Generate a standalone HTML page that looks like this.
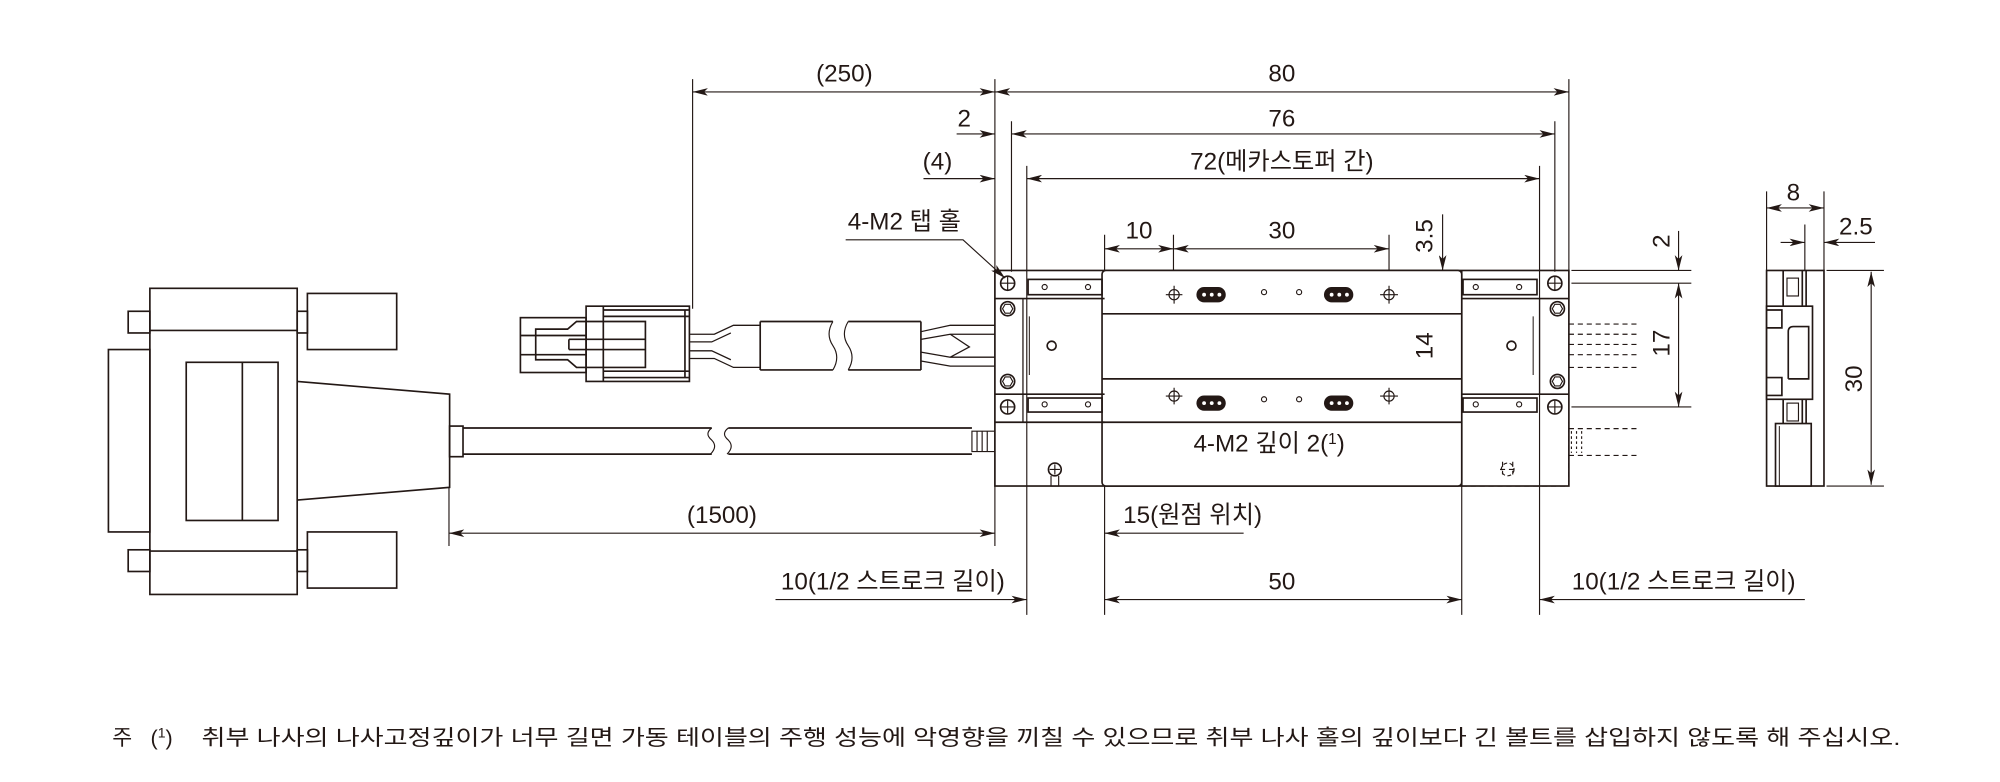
<!DOCTYPE html>
<html><head><meta charset="utf-8">
<style>
html,body{margin:0;padding:0;background:#fff;}
svg{display:block;}
text{font-family:"Liberation Sans","Noto Sans CJK KR",sans-serif;fill:#231815;}
</style></head>
<body>
<svg width="2000" height="782" viewBox="0 0 1568 613" xmlns="http://www.w3.org/2000/svg">
<defs>
<marker id="a" viewBox="0 0 12 6" refX="12" refY="3" markerWidth="12" markerHeight="6" markerUnits="userSpaceOnUse" orient="auto-start-reverse">
<path d="M0,0 L12,3 L0,6 L3,3 Z" fill="#231815"/>
</marker>
</defs>
<g stroke="#231815" fill="none" stroke-width="0.9">
<!-- extension lines -->
<path d="M543,62V242 M780,62V428 M793,95V213 M805,130V482 M1219,95V213 M1230,62V213 M1207,130V482 M866,381V482 M1146,381V482 M352,382V428 M866,184V212 M920,184V240 M1089,184V240"/>
<!-- dimension lines -->
<path d="M543,72H780" marker-start="url(#a)" marker-end="url(#a)"/>
<path d="M780,72H1230" marker-start="url(#a)" marker-end="url(#a)"/>
<path d="M750,105H780" marker-end="url(#a)"/>
<path d="M793,105H1219" marker-start="url(#a)" marker-end="url(#a)"/>
<path d="M724,140H780" marker-end="url(#a)"/>
<path d="M805,140H1207" marker-start="url(#a)" marker-end="url(#a)"/>
<path d="M866,195H920" marker-start="url(#a)" marker-end="url(#a)"/>
<path d="M920,195H1089" marker-start="url(#a)" marker-end="url(#a)"/>
<path d="M1131,168V212" marker-end="url(#a)"/>
<path d="M1131,230V310" marker-start="url(#a)" marker-end="url(#a)"/>
<path d="M1089,230H1145 M1089,310H1145"/>
<path d="M1316,181V212" marker-end="url(#a)"/>
<path d="M1316,222V319" marker-start="url(#a)" marker-end="url(#a)"/>
<path d="M1232,212H1326 M1232,222H1326 M1232,319H1326"/>
<path d="M352,418H780" marker-start="url(#a)" marker-end="url(#a)"/>
<path d="M975,418H866" marker-end="url(#a)"/>
<path d="M608,470H805" marker-end="url(#a)"/>
<path d="M866,470H1146" marker-start="url(#a)" marker-end="url(#a)"/>
<path d="M1415,470H1207" marker-end="url(#a)"/>
<!-- side view dims -->
<path d="M1385,150V212 M1430,150V212 M1415,176V212"/>
<path d="M1385,163H1430" marker-start="url(#a)" marker-end="url(#a)"/>
<path d="M1396,190H1415" marker-end="url(#a)"/>
<path d="M1470,190H1430" marker-end="url(#a)"/>
<path d="M1432,212H1477 M1432,381H1477"/>
<path d="M1467,213V380" marker-start="url(#a)" marker-end="url(#a)"/>
<!-- leaders -->
<path d="M663,188H755L788,218" marker-end="url(#a)"/>
<path d="M930,360H1058L1087,312" marker-end="url(#a)"/>
</g>

<g stroke="#231815" fill="none" stroke-width="1.3">
<!-- main block -->
<rect x="780" y="212" width="450" height="169"/>
<path d="M866,212V381 M1146,212V381" />
<rect x="864" y="212" width="282" height="169" rx="3" fill="#fff"/>
<path d="M864,246H1146 M864,297H1146 M864,331H1146"/>
<path d="M780,234H866 M780,309H866 M780,331H866 M1146,234H1230 M1146,309H1230"/>
<path d="M802,234V331 M1207,234V309" stroke-width="1"/>
<path d="M807,248V294 M1202,248V294" stroke-width="0.8"/>
<!-- slots -->
<rect x="806" y="219" width="58" height="12"/><rect x="806" y="312" width="58" height="11"/>
<rect x="1147" y="219" width="58" height="12"/><rect x="1147" y="312" width="58" height="11"/>
<!-- circles -->
<circle cx="790" cy="222" r="5.5"/><circle cx="790" cy="319" r="5.5"/>
<circle cx="1219" cy="222" r="5.5"/><circle cx="1219" cy="319" r="5.5"/>
<circle cx="790" cy="242" r="5.5"/><circle cx="790" cy="299" r="5.5"/>
<circle cx="1221" cy="242" r="5.5"/><circle cx="1221" cy="299" r="5.5"/>
<circle cx="824.5" cy="271" r="3.5"/><circle cx="1185" cy="271" r="3.5"/>
<circle cx="827" cy="368" r="5"/>
</g>
<g stroke="#231815" fill="none" stroke-width="0.9">
<path d="M785,222H795M790,217V227 M785,319H795M790,314V324 M1214,222H1224M1219,217V227 M1214,319H1224M1219,314V324"/>
<polygon points="786,242 788,238.5 792,238.5 794,242 792,245.5 788,245.5"/><polygon points="786,299 788,295.5 792,295.5 794,299 792,302.5 788,302.5"/>
<polygon points="1217,242 1219,238.5 1223,238.5 1225,242 1223,245.5 1219,245.5"/><polygon points="1217,299 1219,295.5 1223,295.5 1225,299 1223,302.5 1219,302.5"/>
<circle cx="819" cy="225" r="2"/><circle cx="853" cy="225" r="2"/><circle cx="819" cy="317" r="2"/><circle cx="853" cy="317" r="2"/>
<circle cx="1157" cy="225" r="2"/><circle cx="1191" cy="225" r="2"/><circle cx="1157" cy="317" r="2"/><circle cx="1191" cy="317" r="2"/>
<path d="M823,368H831M827,364V372 M824,373V381H830V373"/>
<!-- carriage holes -->
<circle cx="920.5" cy="231" r="4"/><path d="M914,231H927M920.5,224V238"/>
<circle cx="1089" cy="231" r="4"/><path d="M1082,231H1096M1089,224V238"/>
<circle cx="920.5" cy="310.5" r="4"/><path d="M914,310.5H927M920.5,304V317"/>
<circle cx="1089" cy="310.5" r="4"/><path d="M1082,310.5H1096M1089,304V317"/>
<circle cx="991" cy="229" r="2"/><circle cx="1018.5" cy="229" r="2"/>
<circle cx="991" cy="313" r="2"/><circle cx="1018.5" cy="313" r="2"/>
<!-- dashed right parts -->
<path stroke-dasharray="4,3" d="M1146,381H1230V331 M1230,254H1284 M1230,262H1284 M1230,270H1284 M1230,278H1284 M1230,288H1284 M1230,336H1284 M1230,357H1284 M1178,362V372 M1186,362V372 M1176,368H1190"/>
<circle cx="1182" cy="368" r="5" stroke-dasharray="3,2"/>
<path stroke-dasharray="2,2" d="M1232,338V355 M1236,338V355 M1240,338V355"/>
</g>
<g fill="#231815">
<rect x="938" y="225" width="23" height="12" rx="6"/><rect x="1038" y="225" width="23" height="12" rx="6"/>
<rect x="938" y="310" width="23" height="12" rx="6"/><rect x="1038" y="310" width="23" height="12" rx="6"/>
</g>
<g fill="#fff" stroke="none">
<circle cx="944" cy="231" r="1.5"/><circle cx="950" cy="231" r="1.5"/><circle cx="956" cy="231" r="1.5"/>
<circle cx="1044" cy="231" r="1.5"/><circle cx="1050" cy="231" r="1.5"/><circle cx="1056" cy="231" r="1.5"/>
<circle cx="944" cy="316" r="1.5"/><circle cx="950" cy="316" r="1.5"/><circle cx="956" cy="316" r="1.5"/>
<circle cx="1044" cy="316" r="1.5"/><circle cx="1050" cy="316" r="1.5"/><circle cx="1056" cy="316" r="1.5"/>
</g>

<!-- side view -->
<g stroke="#231815" fill="none" stroke-width="1.3">
<rect x="1385" y="212" width="45" height="169"/>
<path d="M1416,212V381"/>
<rect x="1385" y="240" width="36" height="73" fill="#fff"/>
<path d="M1402,297V260Q1402,256 1406,256H1418V297H1402" />
<path d="M1385,243H1397V257H1385 M1385,296H1397V310H1385"/>
<path d="M1398,212V240 M1413,212V240 M1398,313V332 M1413,313V332"/>
<rect x="1392" y="332" width="28" height="49" fill="#fff"/>
<path d="M1395,334V381" stroke-width="0.8"/>
<rect x="1401" y="218" width="9" height="14" stroke-width="0.9"/>
<rect x="1401" y="316" width="9" height="14" stroke-width="0.9"/>
</g>

<!-- D-sub connector -->
<g stroke="#231815" fill="none" stroke-width="1.3">
<rect x="117.5" y="226" width="115.5" height="240"/>
<path d="M117.5,259H233 M117.5,432H233"/>
<rect x="85" y="274" width="32.5" height="143"/>
<rect x="100.5" y="244" width="17" height="17"/><rect x="100.5" y="431" width="17" height="17"/>
<rect x="233" y="244" width="8" height="17"/><rect x="233" y="431" width="8" height="17"/>
<rect x="241" y="230" width="70" height="44"/><rect x="241" y="417" width="70" height="44"/>
<rect x="146" y="284" width="72" height="124"/><path d="M190,284V408"/>
<path d="M233,299L352.5,309V382L233,392"/>
<rect x="352.5" y="334" width="10.5" height="24"/>
<path d="M363,335.5H558 M363,356H558 M571,335.5H762 M571,356H762"/>
<path d="M558,335.5Q552,340 558,345Q563,350 557,356 M571,335.5Q565,340 571,345Q576,350 570,356" stroke-width="0.9"/>
<path d="M762,338H780V354H762Z M766,338V354 M770,338V354 M774,338V354" stroke-width="0.9"/>
<!-- small connector -->
<rect x="408" y="249" width="51.5" height="43"/>
<path d="M408,263H459.5 M408,278H459.5"/>
<rect x="459.5" y="240" width="81" height="59"/>
<path d="M473,243H540 M473,248H540 M473,296H540 M473,291H540 M473,240V299 M537,243V296"/>
<path d="M420,258H445L452,252H506V288H452L445,282H420Z"/>
<path d="M446,266H506 M446,274H506 M446,266V274"/>
<path d="M541,262H560L575,255H596 M541,281H560L575,288H596 M541,268H558L573,261 M541,275H558L573,282" stroke-width="1"/>
<path d="M596,252H653 M596,290H653 M665,252H722 M665,290H722 M596,252V290 M722,252V290"/>
<path d="M653,252Q647,262 653,271Q659,280 653,290 M665,252Q659,262 665,271Q671,280 665,290" stroke-width="0.9"/>
<path d="M722,260L745,255H780 M722,266L745,262H780 M722,276L745,280H780 M722,283L745,287H780 M745,262L760,272L745,280" stroke-width="1"/>
</g>

<!-- labels -->
<g font-size="19" text-anchor="middle">
<text x="662" y="64">(250)</text>
<text x="1005" y="64">80</text>
<text x="756" y="99">2</text>
<text x="1005" y="99">76</text>
<text x="735" y="133">(4)</text>
<text x="1005" y="133">72(메카스토퍼 간)</text>
<text x="709" y="180">4-M2 탭 홀</text>
<text x="893" y="187">10</text>
<text x="1005" y="187">30</text>
<text x="1406" y="157">8</text>
<text x="1455" y="184">2.5</text>
<text x="566" y="410">(1500)</text>
<text x="935" y="410">15(원점 위치)</text>
<text x="700" y="462">10(1/2 스트로크 길이)</text>
<text x="1005" y="462">50</text>
<text x="1320" y="462">10(1/2 스트로크 길이)</text>
<text x="995" y="354">4-M2 깊이 2(<tspan font-size="12" dy="-6">1</tspan><tspan dy="6">)</tspan></text>
<text transform="translate(1123,185) rotate(-90)">3.5</text>
<text transform="translate(1123,271) rotate(-90)">14</text>
<text transform="translate(1309,189) rotate(-90)">2</text>
<text transform="translate(1309,269) rotate(-90)">17</text>
<text transform="translate(1460,297) rotate(-90)">30</text>
</g>
<g font-size="17">
<text x="88" y="584">주</text>
<text x="118" y="584">(<tspan font-size="11" dy="-6">1</tspan><tspan dy="6">)</tspan></text>
<text x="158" y="584" textLength="1332" lengthAdjust="spacingAndGlyphs">취부 나사의 나사고정깊이가 너무 길면 가동 테이블의 주행 성능에 악영향을 끼칠 수 있으므로 취부 나사 홀의 깊이보다 긴 볼트를 삽입하지 않도록 해 주십시오.</text>
</g>
</svg>
</body></html>
